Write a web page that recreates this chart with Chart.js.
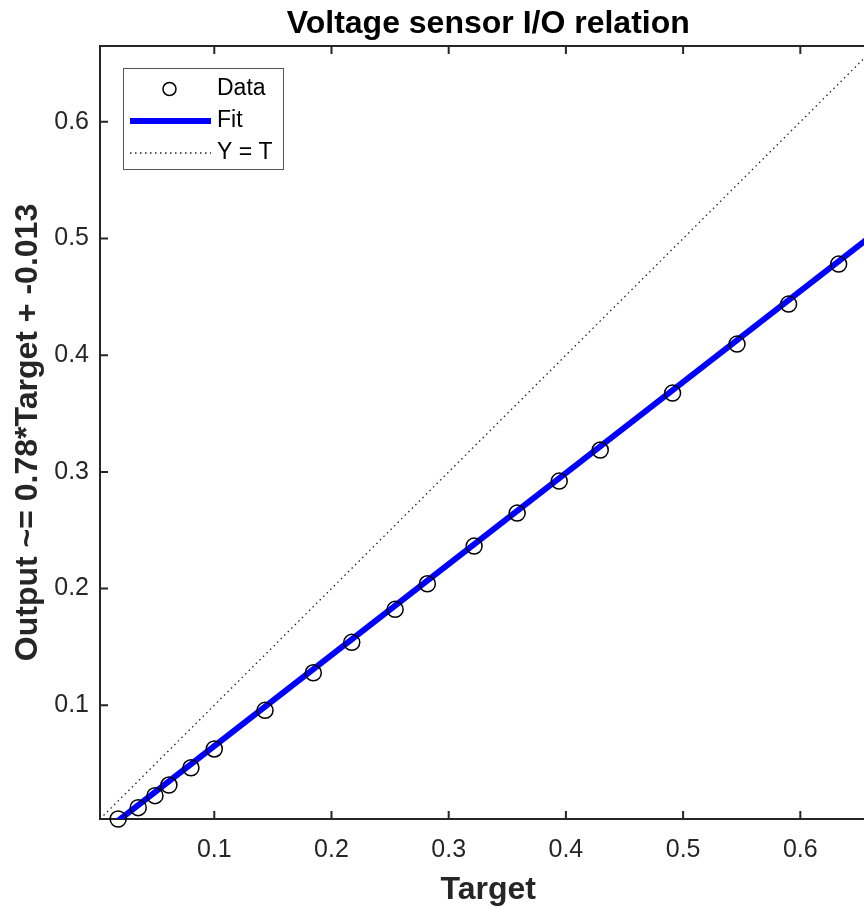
<!DOCTYPE html>
<html><head><meta charset="utf-8">
<script src="https://cdn.jsdelivr.net/npm/chart.js@4.4.1/dist/chart.umd.min.js"></script>
<style>
html,body{margin:0;padding:0;overflow:hidden;background:#fff;width:864px;height:909px;}
#wrap{width:886px;height:909px;}
canvas{display:block;}
</style></head><body>
<div id="wrap"><canvas id="c" width="886" height="909"></canvas></div>
<script>
// ---- data ----
const targets = [0.0180, 0.0351, 0.0494, 0.0613, 0.0801, 0.1000, 0.1433, 0.1845, 0.2173, 0.2543, 0.2818, 0.3217, 0.3584, 0.3943, 0.4293, 0.4910, 0.5460, 0.5900, 0.6327];
const outputs = [0.0025, 0.0122, 0.0225, 0.0316, 0.0464, 0.0625, 0.0956, 0.1278, 0.1539, 0.1822, 0.2041, 0.2364, 0.2647, 0.2921, 0.3187, 0.3675, 0.4095, 0.4438, 0.4781];
const fitX = [0, 0.7];
const fitY = [-0.013, 0.533];
const identityX = [0.0025, 0.665];
const identityY = [0.0025, 0.665];
const axisMin = 0.0025, axisMax = 0.665;
const tickValues = [0.1, 0.2, 0.3, 0.4, 0.5, 0.6];
const tickLabels = ['0.1', '0.2', '0.3', '0.4', '0.5', '0.6'];
const seriesNames = ['Data', 'Fit', 'Y = T'];
const chartTitle = 'Voltage sensor I/O relation';
const xTitle = 'Target';
const yTitle = 'Output ~= 0.78*Target + -0.013';

const FONT = '"Liberation Sans", Arial, Helvetica, sans-serif';
const AX = '#262626';

const pts = (xs, ys) => xs.map((x, i) => ({x: x, y: ys[i]}));

const boxPlugin = {
  id: 'matlabBox',
  beforeDatasetsDraw(chart) {
    const {ctx, chartArea: a, scales} = chart;
    ctx.save();
    ctx.strokeStyle = AX;
    ctx.lineWidth = 2;
    ctx.beginPath();
    ctx.rect(a.left, a.top, a.right - a.left, a.bottom - a.top);
    ctx.stroke();
    const tl = 8;
    ctx.beginPath();
    tickValues.forEach(v => {
      const x = scales.x.getPixelForValue(v);
      ctx.moveTo(x, a.bottom); ctx.lineTo(x, a.bottom - tl);
      ctx.moveTo(x, a.top); ctx.lineTo(x, a.top + tl);
      const y = scales.y.getPixelForValue(v);
      ctx.moveTo(a.left, y); ctx.lineTo(a.left + tl, y);
      ctx.moveTo(a.right, y); ctx.lineTo(a.right - tl, y);
    });
    ctx.stroke();
    ctx.restore();
  }
};

const legendPlugin = {
  id: 'matlabLegend',
  afterDraw(chart) {
    const {ctx} = chart;
    const bx = 123, by = 68, bw = 160, bh = 101;
    ctx.save();
    ctx.fillStyle = '#fff';
    ctx.fillRect(bx, by, bw, bh);
    ctx.strokeStyle = '#555';
    ctx.lineWidth = 1;
    ctx.strokeRect(bx + 0.5, by + 0.5, bw, bh);
    const rows = [89, 121, 153];
    const ds = chart.data.datasets;
    ctx.font = '23px ' + FONT;
    ctx.textBaseline = 'middle';
    ctx.textAlign = 'left';
    ds.forEach((d, i) => {
      const y = rows[i];
      if (i === 0) {
        ctx.beginPath();
        ctx.arc(169.5, y, 6.5, 0, Math.PI * 2);
        ctx.strokeStyle = d.borderColor;
        ctx.lineWidth = 1.5;
        ctx.stroke();
      } else {
        ctx.beginPath();
        ctx.setLineDash(d.borderDash || []);
        ctx.strokeStyle = d.borderColor;
        ctx.lineWidth = d.borderWidth;
        ctx.moveTo(130, y); ctx.lineTo(211, y);
        ctx.stroke();
        ctx.setLineDash([]);
      }
      ctx.fillStyle = '#000';
      ctx.fillText(d.label, 217, y);
    });
    ctx.restore();
  }
};

new Chart(document.getElementById('c'), {
  type: 'scatter',
  data: {
    datasets: [
      {
        label: seriesNames[0],
        data: pts(targets, outputs),
        pointStyle: 'circle',
        pointRadius: 8,
        borderColor: '#000',
        backgroundColor: 'rgba(0,0,0,0)',
        borderWidth: 1.5,
        showLine: false,
        clip: false
      },
      {
        label: seriesNames[1],
        data: pts(fitX, fitY),
        showLine: true,
        borderColor: '#0000ff',
        borderWidth: 6,
        pointRadius: 0,
        fill: false
      },
      {
        label: seriesNames[2],
        data: pts(identityX, identityY),
        showLine: true,
        borderColor: '#222',
        borderWidth: 1.3,
        borderDash: [1.5, 3.5],
        pointRadius: 0,
        fill: false
      }
    ]
  },
  options: {
    responsive: false,
    animation: false,
    events: [],
    layout: {padding: {top: 0, left: 0, right: 4.5, bottom: 0}},
    plugins: {
      legend: {display: false},
      tooltip: {enabled: false},
      title: {
        display: true,
        text: chartTitle,
        fullSize: false,
        color: '#000',
        font: {family: FONT, size: 32, weight: 'bold', lineHeight: 1.2},
        padding: {top: 5.3, bottom: 2.3}
      }
    },
    scales: {
      x: {
        type: 'linear',
        min: axisMin, max: axisMax,
        afterBuildTicks: s => { s.ticks = tickValues.map(v => ({value: v})); },
        afterFit: s => { s.height = 90; },
        grid: {display: false, drawTicks: false},
        border: {display: false},
        ticks: {
          color: AX, padding: 16.4,
          font: {family: FONT, size: 25, lineHeight: 1.2},
          maxRotation: 0,
          callback: (v, i) => tickLabels[i]
        },
        title: {
          display: true, text: xTitle, color: AX,
          font: {family: FONT, size: 32, weight: 'bold', lineHeight: 1.2},
          padding: {top: 0, bottom: 0}
        }
      },
      y: {
        type: 'linear',
        min: axisMin, max: axisMax,
        afterBuildTicks: s => { s.ticks = tickValues.map(v => ({value: v})); },
        afterFit: s => { s.width = 100; },
        grid: {display: false, drawTicks: false},
        border: {display: false},
        ticks: {
          color: AX, padding: 11,
          font: {family: FONT, size: 25, lineHeight: 1.2},
          callback: (v, i) => tickLabels[i]
        },
        title: {
          display: true, text: yTitle, color: AX,
          font: {family: FONT, size: 32, weight: 'bold', lineHeight: 1.2},
          padding: {top: 9, bottom: 0}
        }
      }
    }
  },
  plugins: [boxPlugin, legendPlugin]
});
</script>
</body></html>
